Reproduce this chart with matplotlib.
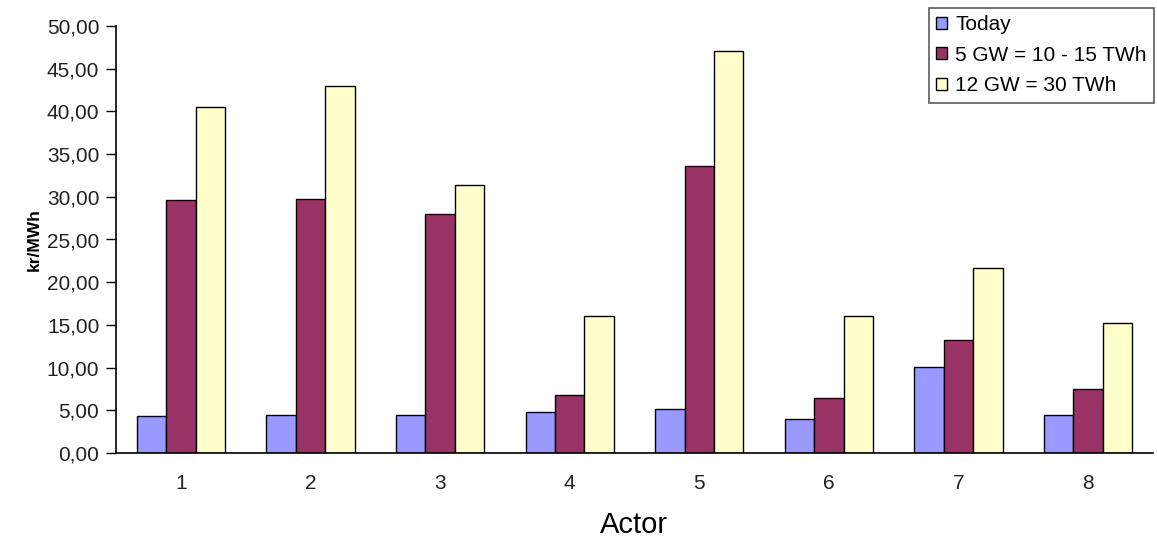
import numpy as np
import matplotlib.pyplot as plt
from matplotlib.ticker import FuncFormatter

plt.rcParams['font.family'] = ['Liberation Sans', 'DejaVu Sans']

actors = [1, 2, 3, 4, 5, 6, 7, 8]
today = [4.3, 4.5, 4.5, 4.8, 5.2, 4.0, 10.1, 4.5]
gw5 = [29.6, 29.8, 28.0, 6.8, 33.6, 6.4, 13.2, 7.5]
gw12 = [40.5, 43.0, 31.4, 16.0, 47.1, 16.0, 21.7, 15.2]

series = [
    ("Today", today, "#9999FF"),
    ("5 GW = 10 - 15 TWh", gw5, "#993366"),
    ("12 GW = 30 TWh", gw12, "#FFFFCC"),
]

fig = plt.figure(figsize=(11.57, 5.38), dpi=100)
ax = fig.add_axes([116 / 1157, 1 - 453 / 538, (1153 - 116) / 1157, (453 - 26) / 538])

x = np.arange(1, len(actors) + 1)
w = 0.227
for i, (name, vals, col) in enumerate(series):
    ax.bar(x + (i - 1) * w, vals, w, color=col, edgecolor="black", linewidth=1, label=name)

ax.set_xlim(0.5, len(actors) + 0.5)
ax.set_ylim(0, 50)
ax.set_yticks(np.arange(0, 50.1, 5))
ax.yaxis.set_major_formatter(FuncFormatter(lambda v, p: f"{v:.2f}".replace(".", ",")))
ax.set_xticks(x)
ax.set_xticklabels([str(a) for a in actors])
ax.tick_params(axis="x", length=0, pad=15, labelsize=15, colors="#222222")
ax.tick_params(axis="y", length=7, width=1, direction="out", labelsize=15, pad=5,
               labelcolor="#222222")

for s in ["top", "right"]:
    ax.spines[s].set_visible(False)
ax.spines["left"].set_linewidth(1.2)
ax.spines["bottom"].set_linewidth(1.2)

ax.set_ylabel("kr/MWh", fontsize=12.5, fontweight="bold", labelpad=4)
ax.set_xlabel("Actor", fontsize=21, labelpad=13)

leg = fig.legend(loc="upper right", bbox_to_anchor=(1154 / 1157, 1 - 8 / 538),
                 fontsize=15, frameon=True, fancybox=False, edgecolor="#333333",
                 handlelength=0.5, handleheight=0.5, handletextpad=0.4,
                 borderpad=0.35, borderaxespad=0, labelspacing=0.55)
leg.get_frame().set_linewidth(1.2)

fig.savefig("out.png", dpi=100)
